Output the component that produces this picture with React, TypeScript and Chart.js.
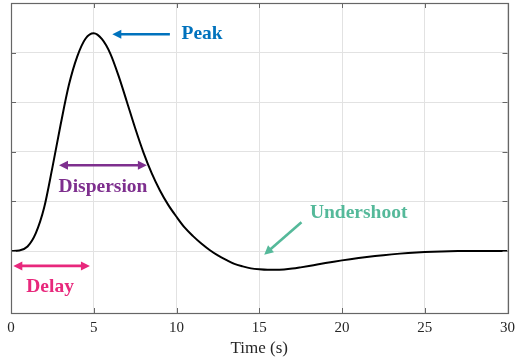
import React, { useEffect, useRef } from "react";
import { Chart, registerables } from "chart.js";

Chart.register(...registerables);

// ---- data ----
const timeS = [
  0, 0.5, 1, 1.5, 2, 2.5, 3, 3.5, 4, 4.5, 5, 5.5, 6, 6.5, 7, 7.5, 8, 8.5, 9, 9.5,
  10, 10.5, 11, 11.5, 12, 12.5, 13, 13.5, 14, 14.5, 15, 15.5, 16, 16.5, 17, 17.5,
  18, 18.5, 19, 19.5, 20, 20.5, 21, 21.5, 22, 22.5, 23, 23.5, 24, 24.5, 25, 25.5,
  26, 26.5, 27, 27.5, 28, 28.5, 29, 29.5, 30,
];
const response = [
  0, 0.001, 0.009, 0.036, 0.087, 0.168, 0.255, 0.335, 0.392, 0.428, 0.439, 0.427,
  0.398, 0.353, 0.301, 0.248, 0.199, 0.157, 0.122, 0.093, 0.069, 0.047, 0.03, 0.015,
  0.002, -0.009, -0.018, -0.026, -0.031, -0.035, -0.037, -0.038, -0.038, -0.0372,
  -0.0355, -0.033, -0.0302, -0.0272, -0.0243, -0.0215, -0.0189, -0.0165, -0.0143,
  -0.0122, -0.0103, -0.0085, -0.0068, -0.0053, -0.004, -0.0029, -0.002, -0.0013,
  -0.0008, -0.0004, -0.0002, -0.0001, 0, 0, 0, 0, 0,
];
const xTicks = [0, 5, 10, 15, 20, 25, 30];
const yTicks = [0, 0.1, 0.2, 0.3, 0.4, 0.5];
const yMin = -0.125;
const yMax = 0.5;

// annotation anchors, in data units
const peakArrow = [[9.6, 0.437], [6.12, 0.437]];
const peakLabel = [10.3, 0.437];
const dispersionArrow = [[2.9, 0.173], [8.21, 0.173]];
const dispersionLabel = [5.56, 0.129];
const delayArrow = [[0.14, -0.03], [4.77, -0.03]];
const delayLabel = [2.36, -0.0725];
const undershootArrow = [[17.55, 0.058], [15.3, -0.0074]];
const undershootLabel = [18.06, 0.0765];

const COLORS = {
  peak: "#0072BD",
  dispersion: "#7E2F8E",
  delay: "#E8287C",
  undershoot: "#55B99A",
  axis: "#666666",
  grid: "#e2e2e2",
  text: "#262626",
};

const SERIF = "'Liberation Serif', 'Times New Roman', serif";

function drawHead(ctx: CanvasRenderingContext2D, tx: number, ty: number, fx: number, fy: number, color: string) {
  const ang = Math.atan2(ty - fy, tx - fx);
  const len = 9;
  const half = 4.5;
  ctx.save();
  ctx.fillStyle = color;
  ctx.beginPath();
  ctx.moveTo(tx, ty);
  ctx.lineTo(tx - len * Math.cos(ang) + half * Math.sin(ang), ty - len * Math.sin(ang) - half * Math.cos(ang));
  ctx.lineTo(tx - len * Math.cos(ang) - half * Math.sin(ang), ty - len * Math.sin(ang) + half * Math.cos(ang));
  ctx.closePath();
  ctx.fill();
  ctx.restore();
}

function drawArrow(chart: any, pts: number[][], color: string, both: boolean) {
  const ctx = chart.ctx as CanvasRenderingContext2D;
  const xs = chart.scales.x;
  const ys = chart.scales.y;
  const x1 = xs.getPixelForValue(pts[0][0]);
  const y1 = ys.getPixelForValue(pts[0][1]);
  const x2 = xs.getPixelForValue(pts[1][0]);
  const y2 = ys.getPixelForValue(pts[1][1]);
  const ang = Math.atan2(y2 - y1, x2 - x1);
  const inset = 6;
  ctx.save();
  ctx.strokeStyle = color;
  ctx.lineWidth = 2.6;
  ctx.beginPath();
  const sx = both ? x1 + inset * Math.cos(ang) : x1;
  const sy = both ? y1 + inset * Math.sin(ang) : y1;
  ctx.moveTo(sx, sy);
  ctx.lineTo(x2 - inset * Math.cos(ang), y2 - inset * Math.sin(ang));
  ctx.stroke();
  ctx.restore();
  drawHead(ctx, x2, y2, x1, y1, color);
  if (both) drawHead(ctx, x1, y1, x2, y2, color);
}

function drawLabel(chart: any, text: string, at: number[], color: string, align: CanvasTextAlign) {
  const ctx = chart.ctx as CanvasRenderingContext2D;
  ctx.save();
  ctx.fillStyle = color;
  ctx.font = `bold 19.5px ${SERIF}`;
  ctx.textAlign = align;
  ctx.textBaseline = "middle";
  ctx.fillText(text, chart.scales.x.getPixelForValue(at[0]), chart.scales.y.getPixelForValue(at[1]));
  ctx.restore();
}

const frame = {
  id: "matlabFrame",
  afterDraw(chart: any) {
    const ctx = chart.ctx as CanvasRenderingContext2D;
    const { left, right, top, bottom } = chart.chartArea;
    const xs = chart.scales.x;
    const ys = chart.scales.y;
    ctx.save();
    ctx.strokeStyle = COLORS.axis;
    ctx.lineWidth = 1;
    const tl = 5;
    ctx.beginPath();
    xTicks.forEach((v) => {
      const px = Math.round(xs.getPixelForValue(v)) + 0.5;
      ctx.moveTo(px, bottom);
      ctx.lineTo(px, bottom - tl);
      ctx.moveTo(px, top);
      ctx.lineTo(px, top + tl);
    });
    yTicks.forEach((v) => {
      const py = Math.round(ys.getPixelForValue(v)) + 0.5;
      ctx.moveTo(left, py);
      ctx.lineTo(left + tl, py);
      ctx.moveTo(right, py);
      ctx.lineTo(right - tl, py);
    });
    ctx.stroke();
    ctx.lineWidth = 1.2;
    ctx.strokeRect(Math.round(left) + 0.5, Math.round(top) + 0.5, Math.round(right - left), Math.round(bottom - top));
    ctx.restore();

    drawArrow(chart, peakArrow, COLORS.peak, false);
    drawLabel(chart, "Peak", peakLabel, COLORS.peak, "left");
    drawArrow(chart, dispersionArrow, COLORS.dispersion, true);
    drawLabel(chart, "Dispersion", dispersionLabel, COLORS.dispersion, "center");
    drawArrow(chart, delayArrow, COLORS.delay, true);
    drawLabel(chart, "Delay", delayLabel, COLORS.delay, "center");
    drawArrow(chart, undershootArrow, COLORS.undershoot, false);
    drawLabel(chart, "Undershoot", undershootLabel, COLORS.undershoot, "left");
  },
};

export default function App() {
  const ref = useRef<HTMLCanvasElement | null>(null);
  useEffect(() => {
    if (!ref.current) return;
    const chart = new Chart(ref.current, {
      type: "line",
      data: {
        datasets: [
          {
            data: timeS.map((t, i) => ({ x: t, y: response[i] })),
            borderColor: "#000000",
            borderWidth: 2,
            pointRadius: 0,
            cubicInterpolationMode: "monotone",
            fill: false,
          },
        ],
      },
      options: {
        animation: false,
        responsive: true,
        maintainAspectRatio: false,
        layout: { padding: { left: 11, right: 7.5, top: 3, bottom: 0 } },
        plugins: { legend: { display: false }, tooltip: { enabled: false } },
        scales: {
          x: {
            type: "linear",
            min: 0,
            max: 30,
            afterBuildTicks: (s: any) => {
              s.ticks = xTicks.map((v) => ({ value: v }));
            },
            afterFit: (s: any) => {
              s.height = 49;
              s.paddingLeft = 0;
              s.paddingRight = 0;
            },
            ticks: {
              autoSkip: false,
              maxRotation: 0,
              padding: 6,
              color: COLORS.text,
              font: { family: SERIF, size: 15 },
            },
            grid: { color: COLORS.grid, drawTicks: false, lineWidth: 1 },
            border: { display: false },
            title: {
              display: true,
              text: "Time (s)",
              color: COLORS.text,
              padding: { top: 0, bottom: 3 },
              font: { family: SERIF, size: 17 },
            },
          },
          y: {
            type: "linear",
            min: yMin,
            max: yMax,
            afterBuildTicks: (s: any) => {
              s.ticks = yTicks.map((v) => ({ value: v }));
            },
            afterFit: (s: any) => {
              s.width = 0;
              s.paddingTop = 0;
              s.paddingBottom = 0;
            },
            ticks: { display: false },
            grid: { color: COLORS.grid, drawTicks: false, lineWidth: 1 },
            border: { display: false },
          },
        },
      },
      plugins: [frame],
    });
    return () => chart.destroy();
  }, []);
  return (
    <div style={{ position: "absolute", left: 0, top: 0, width: 515, height: 362 }}>
      <canvas ref={ref} />
    </div>
  );
}
